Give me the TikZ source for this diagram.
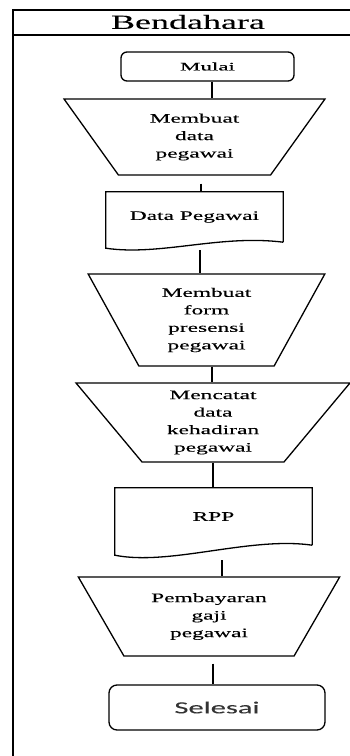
\documentclass[tikz,border=0pt]{standalone}
\usepackage{fontspec}
\setmainfont{Liberation Serif}[FakeStretch=1.8,FakeBold=0.2]
\newfontfamily\mulaifont{Liberation Serif}[FakeStretch=2.0,FakeBold=0.2]
\newfontfamily\selesaifont{Carlito}[FakeStretch=1.8,FakeBold=0.1]
\usetikzlibrary{shapes.geometric}
\begin{document}
\begin{tikzpicture}[x=1pt,y=-1pt,
	proc/.style={trapezium, shape border rotate=180, trapezium stretches=true, inner sep=0pt, draw=black, line width=1.3pt, align=center, font=\fontsize{13}{17.5}\selectfont},
	term/.style={rectangle, rounded corners=6pt, draw=black, line width=1.3pt},
	docbox/.style={rectangle, draw=none, inner sep=0pt, font=\fontsize{13}{17}\selectfont},
	wire/.style={draw=black, line width=1.3pt}]
	\useasboundingbox (0,0) rectangle (350,756);
	% swimlane
	\draw[line width=2pt] (13,780) -- (13,10) -- (360,10);
	\draw[line width=1.5pt] (13,35) -- (360,35);
	\node (lane) at (188,22) {\fontsize{20}{22}\selectfont Bendahara};
	% start
	\node[term, minimum width=173pt, minimum height=29pt] (mulai) at (207.5,66.5) {\mulaifont\fontsize{11.5}{13}\selectfont Mulai};
	\node[proc, minimum width=261pt, minimum height=76pt, trapezium left angle=55.6, trapezium right angle=55.6] (t1) at (194.5,137) {Membuat\\data\\pegawai};
	\node[docbox, minimum width=177pt, minimum height=50pt] (d1) at (194.5,217) {Data Pegawai\\[8pt]};
	\node[proc, minimum width=237pt, minimum height=92pt, trapezium left angle=62.4, trapezium right angle=62.4] (t2) at (206.5,320) {Membuat\\form\\presensi\\pegawai};
	\node[proc, minimum width=274pt, minimum height=79pt, trapezium left angle=56.1, trapezium right angle=56.1] (t3) at (213,422.5) {Mencatat\\data\\kehadiran\\pegawai};
	\node[docbox, minimum width=197pt, minimum height=57pt] (d2) at (213.5,516.5) {RPP};
	\node[proc, minimum width=262pt, minimum height=79pt, trapezium left angle=56.5, trapezium right angle=56.5] (t4) at (209,616.5) {Pembayaran\\gaji\\pegawai};
	% end
	\node[term, rounded corners=8pt, minimum width=216pt, minimum height=45pt, text=black!80] (selesai) at (217,707.5) {\selesaifont\fontsize{17}{20}\selectfont Selesai};
	% document outlines
	\draw[wire] (d1.south east) -- (d1.north east) -- (d1.north west) -- ([yshift=-6pt]d1.south west)
		.. controls ([xshift=54pt,yshift=-14pt]d1.south west) and ([xshift=-63pt,yshift=8pt]d1.south east) .. (d1.south east);
	\draw[wire] (d2.south east) -- (d2.north east) -- (d2.north west) -- ([yshift=-10pt]d2.south west)
		.. controls ([xshift=55pt,yshift=-21pt]d2.south west) and ([xshift=-62pt,yshift=9pt]d2.south east) .. (d2.south east);
	% flow
	\draw[wire] ([xshift=4.5pt]mulai.south) -- ([xshift=4.5pt]mulai.south |- t1.north);
	\draw[wire] ([xshift=6.5pt,yshift=-8pt]t1.south) -- ([xshift=6.5pt]t1.south |- d1.north);
	\draw[wire] ([xshift=5.5pt,yshift=-8pt]d1.south) -- ([xshift=5.5pt]d1.south |- t2.north);
	\draw[wire] ([xshift=5.5pt]t2.south) -- ([xshift=5.5pt]t2.south |- t3.north);
	\draw[wire] (t3.south) -- (t3.south |- d2.north);
	\draw[wire] ([xshift=8.5pt,yshift=-15pt]d2.south) -- ([xshift=8.5pt]d2.south |- t4.north);
	\draw[wire] ([xshift=4pt,yshift=-7pt]t4.south) -- ([xshift=4pt]t4.south |- selesai.north);
\end{tikzpicture}
\end{document}
